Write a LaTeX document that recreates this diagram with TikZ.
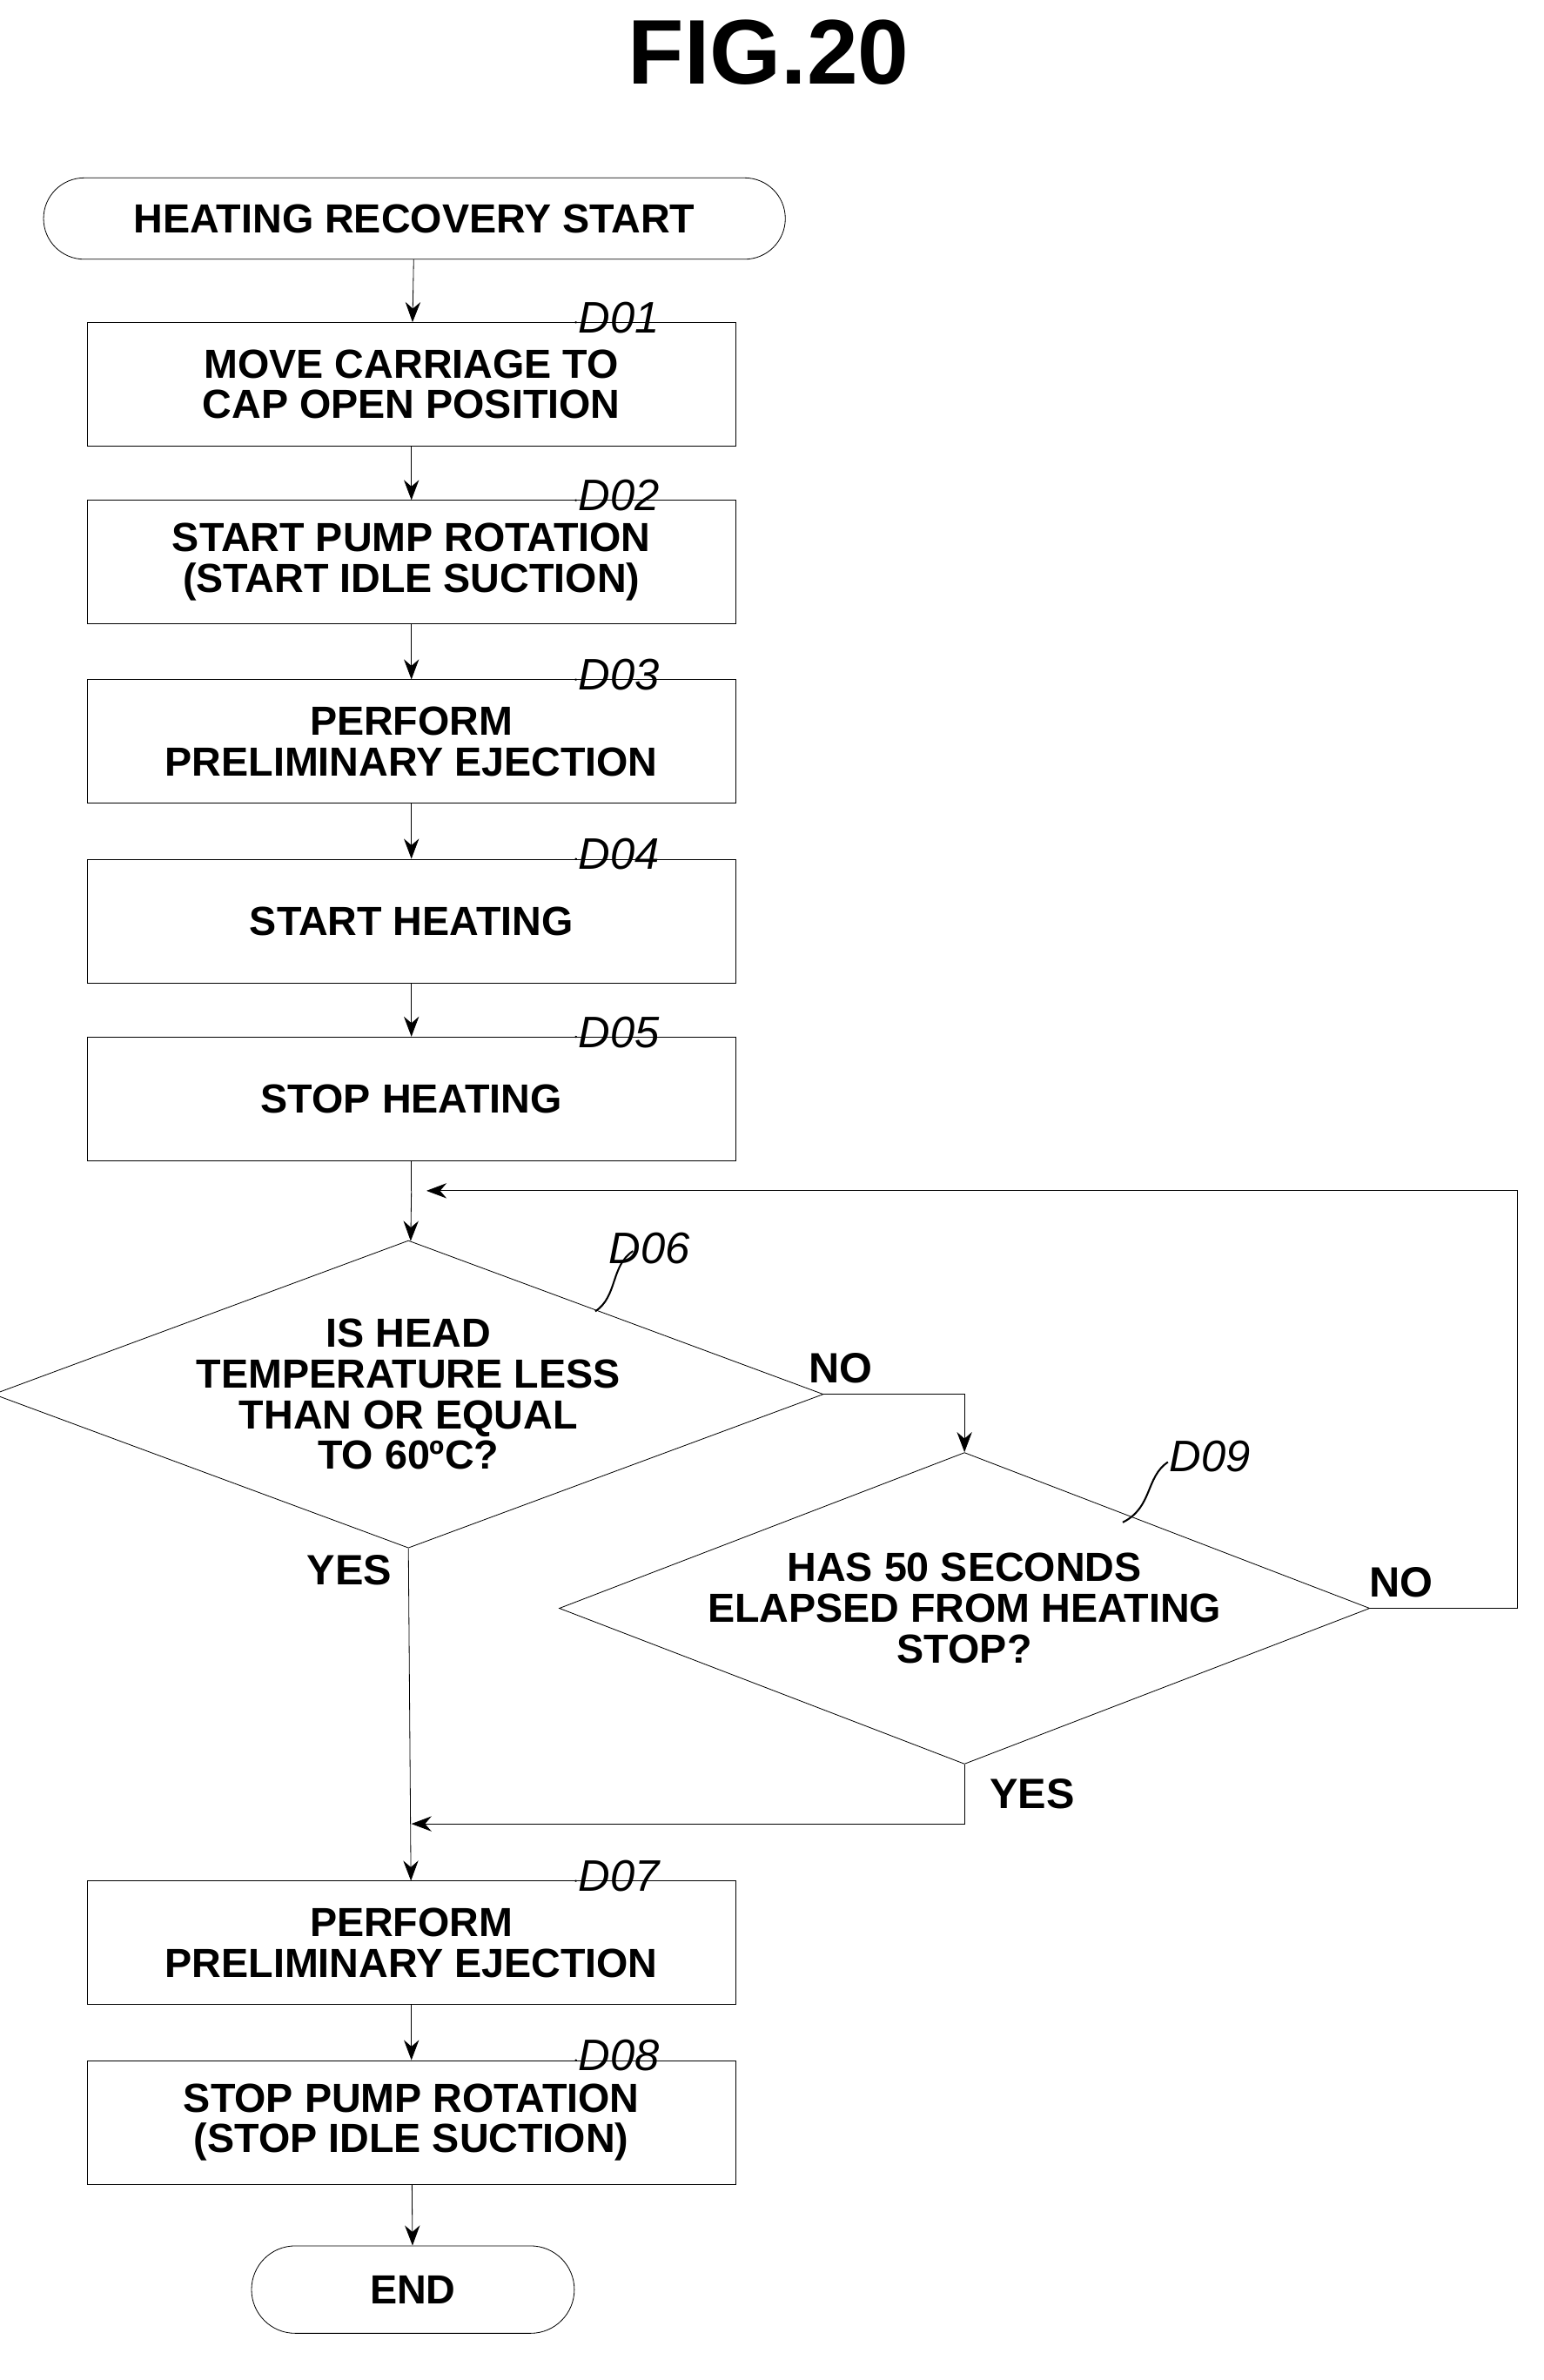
\documentclass[tikz,border=0pt]{standalone}
\usepackage{fontspec}
\setmainfont{Liberation Sans}
\usetikzlibrary{shapes.geometric,shapes.misc,arrows.meta,positioning}
\tikzset{
  font=\bfseries\fontsize{23}{23}\selectfont,
  >={Stealth[length=4mm,width=3mm]},
  line width=1.4pt,
  my step/.style={draw,rectangle,minimum width=12.9cm,minimum height=2.46cm,align=center},
  my term/.style={draw,rounded rectangle,align=center},
  my dec/.style={draw,diamond,aspect=2.7,inner sep=0pt,align=center},
  my tag/.style={font=\itshape\fontsize{25}{25}\selectfont},
  my ans/.style={font=\bfseries\fontsize{24}{24}\selectfont}
}
\newcommand{\steptag}[3]{% node, tag name, text
  \draw[line width=1pt] ([xshift=-3.2cm]#1.north east) .. controls +(0.4,0) and +(-0.3,-0.05) .. ++(0.6,0.1)
    .. controls +(0.25,0.05) and +(-0.2,-0.1) .. ++(0.45,0.3) coordinate (#2);
  \node[my tag,anchor=west,inner sep=1pt] at ([yshift=0.1cm]#2) {#3};
}
\begin{document}
\begin{tikzpicture}[x=0.03cm,y=-0.03cm]
\useasboundingbox (0,0) rectangle (1024,1579);
\node[font=\bfseries\fontsize{52}{52}\selectfont] (title) at (510,35) {FIG.20};
\node[my term,minimum width=15cm,minimum height=1.62cm] (start) at (275,145) {HEATING RECOVERY START};
\node[my step] (d01) at (273,255) {MOVE CARRIAGE TO\\CAP OPEN POSITION};
\node[my step] (d02) at (273,373) {START PUMP ROTATION\\(START IDLE SUCTION)};
\node[my step] (d03) at (273,492) {PERFORM\\PRELIMINARY EJECTION};
\node[my step] (d04) at (273,611) {START HEATING};
\node[my step] (d05) at (273,729) {STOP HEATING};
\node[my dec,minimum width=15.54cm,minimum height=5.7cm] (d06) at (271,925) {IS HEAD\\TEMPERATURE LESS\\THAN OR EQUAL\\TO 60ºC?};
\node[my dec,minimum width=15.9cm,minimum height=6.2cm] (d09) at (640,1067) {HAS 50 SECONDS\\ELAPSED FROM HEATING\\STOP?};
\node[my step] (d07) at (273,1289) {PERFORM\\PRELIMINARY EJECTION};
\node[my step] (d08) at (273,1408) {STOP PUMP ROTATION\\(STOP IDLE SUCTION)};
\node[my term,minimum width=6.66cm,minimum height=1.74cm] (end) at (274,1519) {END};
\coordinate (join) at (273,790);
\coordinate (merge) at (273,1210);
% step tags
\steptag{d01}{t1}{D01}
\steptag{d02}{t2}{D02}
\steptag{d03}{t3}{D03}
\steptag{d04}{t4}{D04}
\steptag{d05}{t5}{D05}
\steptag{d07}{t7}{D07}
\steptag{d08}{t8}{D08}
\draw[line width=1pt] (395,870) .. controls (410,860) and (405,840) .. (420,830);
\node[my tag,anchor=west] at (400,828) {D06};
\draw[line width=1pt] (745,1010) .. controls (765,1000) and (760,980) .. (775,970);
\node[my tag,anchor=west] at (772,966) {D09};
% connectors
\draw[->] (start) -- (d01);
\draw[->] (d01) -- (d02);
\draw[->] (d02) -- (d03);
\draw[->] (d03) -- (d04);
\draw[->] (d04) -- (d05);
\draw (d05) -- (join);
\draw[->] (join) -- (d06);
\draw[->] (d06.east) -| (d09.north);
\draw[->] (d06.south) -- (d07);
\draw[->] (d09.east) -- ++(98,0) |- ([xshift=0.3cm]join);
\draw[->] (d09.south) |- (merge);
\draw[->] (d07) -- (d08);
\draw[->] (d08) -- (end);
\node[my ans] at (558,908) {NO};
\node[my ans] at (232,1042) {YES};
\node[my ans] at (930,1050) {NO};
\node[my ans] at (685,1190) {YES};
\end{tikzpicture}
\end{document}
